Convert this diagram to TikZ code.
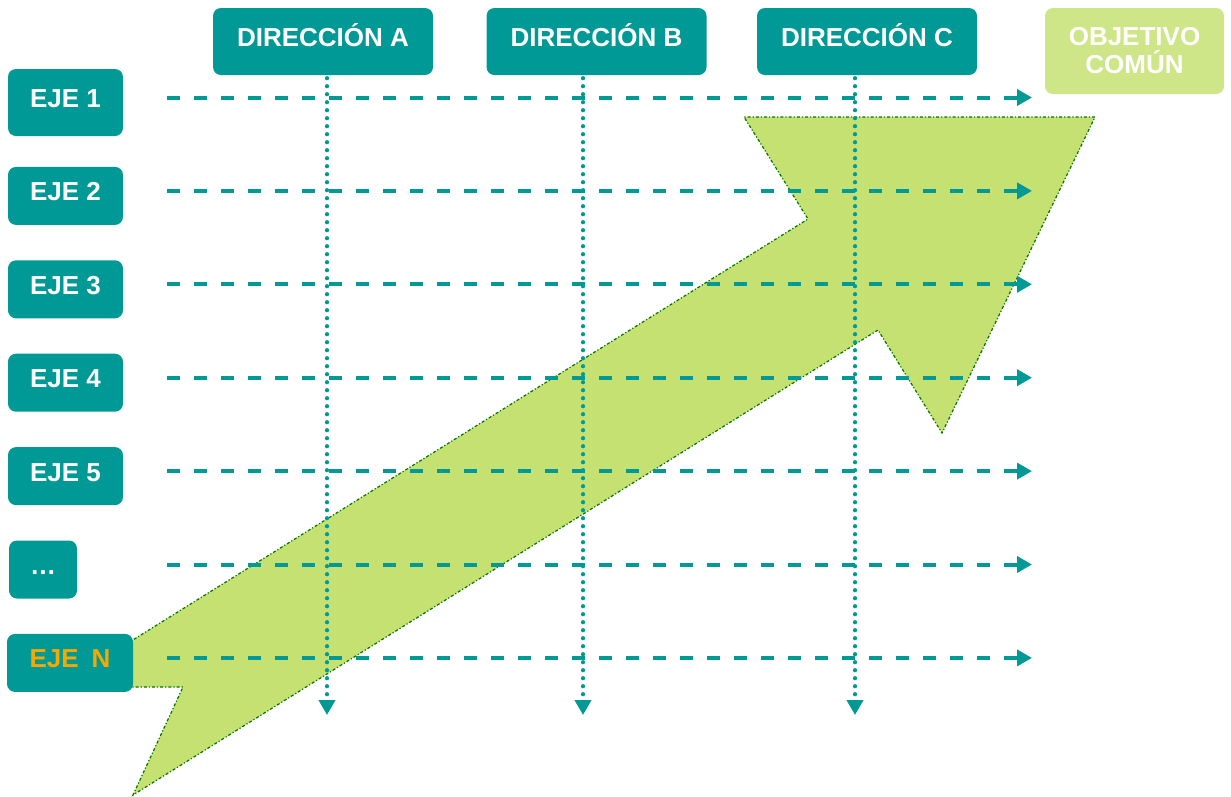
\documentclass[tikz,border=0pt]{standalone}
\usepackage{fontspec}
\setmainfont{Liberation Sans}
\usetikzlibrary{arrows.meta,backgrounds}

\definecolor{verdeazul}{RGB}{0,153,150}
\definecolor{verdeclaro}{RGB}{197,225,113}
\definecolor{verdeobj}{RGB}{206,230,135}
\definecolor{naranja}{RGB}{247,168,0}

\tikzset{
  caja/.style={rectangle, rounded corners=8pt, fill=verdeazul, text=white,
    font=\fontsize{26}{28}\selectfont\bfseries, inner sep=0pt},
  eje/.style={caja, minimum width=115pt, minimum height=58pt, text height=19pt, text depth=9pt},
  dir/.style={caja, minimum width=220pt, minimum height=67pt, text height=19pt, text depth=9pt},
  guia/.style={verdeazul, line width=4pt, dash pattern=on 13pt off 14pt,
    -{Triangle[length=15pt,width=16pt]}},
  punteada/.style={verdeazul, line width=4.2pt, line cap=round, dash pattern=on 0pt off 8pt,
    -{Triangle[length=15pt,width=16pt]}},
  flecha/.style={fill=verdeclaro, draw=green!45!black, line width=1.2pt, dash dot}
}

\begin{document}
\begin{tikzpicture}[x=1pt, y=-1pt, node distance=93.4pt]
\useasboundingbox (0,0) rectangle (1231,796);

% ejes
\node[eje, minimum height=67pt] (e1) at (65.5,102.5) {EJE 1};
\node[eje] (e2) [below of=e1] {EJE 2};
\node[eje] (e3) [below of=e2] {EJE 3};
\node[eje] (e4) [below of=e3] {EJE 4};
\node[eje] (e5) [below of=e4] {EJE 5};
\node[eje, minimum width=68pt, xshift=-22.5pt] (e6) [below of=e5] {…};
\node[eje, minimum width=126pt, xshift=27pt, text=naranja] (en) [below of=e6] {EJE\enspace N};

% direcciones
\node[dir] (da) at (323,41.5) {DIRECCIÓN A};
\node[dir] (db) [right of=da, node distance=273.5pt] {DIRECCIÓN B};
\node[dir] (dc) [right of=db, node distance=270.5pt] {DIRECCIÓN C};
\node[caja, fill=verdeobj, minimum width=179pt, minimum height=86pt, align=center] (obj) at (1134.5,51) {OBJETIVO\\COMÚN};

\coordinate (inicio) at (167,0);
\coordinate (fin) at (1032,0);
\coordinate (fondo) at (0,715);

% flecha de fondo
\begin{scope}[on background layer]
\draw[flecha] (120,648) -- (808,219) -- (744,117) -- (1095,117) -- (942,433)
  -- (878,330) -- (133,795) -- (183,687) -- (120,687) -- cycle;
\end{scope}

\draw[guia] ([yshift=5pt]e1 -| inicio) -- ([yshift=5pt]e1 -| fin);
\draw[guia] ([yshift=5pt]e2 -| inicio) -- ([yshift=5pt]e2 -| fin);
\draw[guia] ([yshift=5pt]e3 -| inicio) -- ([yshift=5pt]e3 -| fin);
\draw[guia] ([yshift=5pt]e4 -| inicio) -- ([yshift=5pt]e4 -| fin);
\draw[guia] ([yshift=5pt]e5 -| inicio) -- ([yshift=5pt]e5 -| fin);
\draw[guia] ([yshift=5pt]e6 -| inicio) -- ([yshift=5pt]e6 -| fin);
\draw[guia] ([yshift=5pt]en -| inicio) -- ([yshift=5pt]en -| fin);

\draw[punteada] ([xshift=4pt,yshift=-3pt]da.south) -- ([xshift=4pt]da.south |- fondo);
\draw[punteada] ([xshift=-13.5pt,yshift=-3pt]db.south) -- ([xshift=-13.5pt]db.south |- fondo);
\draw[punteada] ([xshift=-12pt,yshift=-3pt]dc.south) -- ([xshift=-12pt]dc.south |- fondo);
\end{tikzpicture}
\end{document}
